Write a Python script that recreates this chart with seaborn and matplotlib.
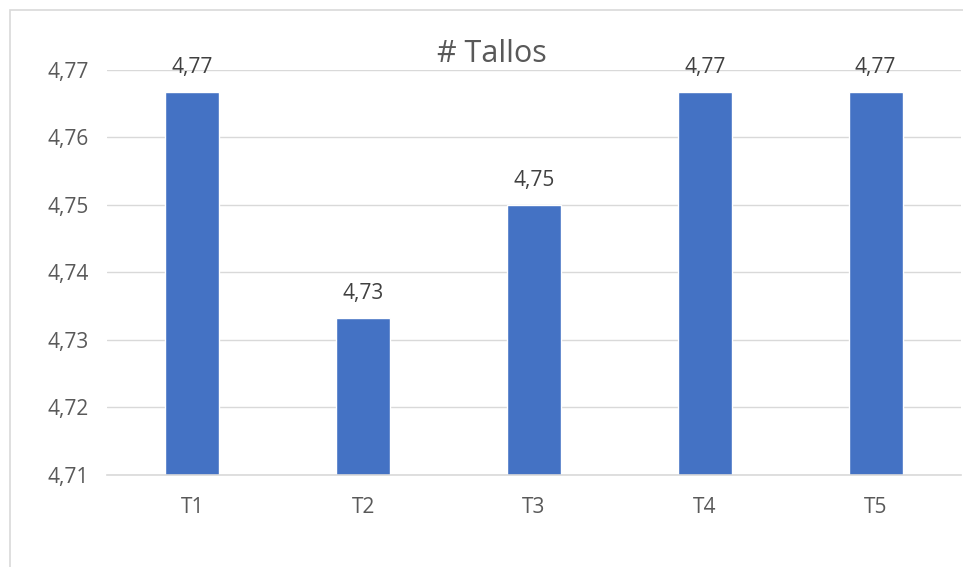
import matplotlib
matplotlib.use("Agg")
import matplotlib.pyplot as plt
import seaborn as sns
import pandas as pd
from matplotlib.patches import Rectangle

# data
tratamientos = ["T1", "T2", "T3", "T4", "T5"]
tallos = [4.7667, 4.7333, 4.75, 4.7667, 4.7667]
y_ticks = [4.71, 4.72, 4.73, 4.74, 4.75, 4.76, 4.77]

df = pd.DataFrame({"Tratamiento": tratamientos, "Tallos": tallos})

sns.set_theme(style="white")
plt.rcParams["font.family"] = ["Open Sans", "DejaVu Sans"]

fig = plt.figure(figsize=(9.63, 5.67), dpi=100)
ax = fig.add_axes([0.111, 0.1623, 0.887, 0.7143])

sns.barplot(data=df, x="Tratamiento", y="Tallos", color="#4472C4",
            saturation=1, width=0.316, ax=ax)

ax.set_ylim(4.71, 4.77)
ax.set_yticks(y_ticks)
ax.set_yticklabels([f"{v:.2f}".replace(".", ",") for v in y_ticks])
ax.set_xlim(-0.5, 4.5)
ax.yaxis.grid(True, color="#d9d9d9", linewidth=1)
ax.set_axisbelow(True)
for s in ["top", "right", "left"]:
    ax.spines[s].set_visible(False)
ax.spines["bottom"].set_color("#d9d9d9")
ax.spines["bottom"].set_linewidth(1.2)
ax.tick_params(axis="both", length=0, labelsize=15, colors="#595959")
ax.tick_params(axis="y", pad=13)
ax.tick_params(axis="x", pad=16)
ax.set_xlabel("")
ax.set_ylabel("")

labels = [f"{v:.2f}".replace(".", ",") for v in tallos]
ax.bar_label(ax.containers[0], labels=labels, padding=10, fontsize=15,
             color="#404040", clip_on=False)

fig.text(0.511, 0.905, "# Tallos", ha="center", va="center",
         fontsize=22, color="#595959")

# chart area frame (cut at right and bottom edges)
fig.patches.append(Rectangle((0.0104, -0.05), 1.1, 1.032, transform=fig.transFigure,
                             fill=False, edgecolor="#d9d9d9", linewidth=1.2))

fig.savefig("out.png", dpi=100)
